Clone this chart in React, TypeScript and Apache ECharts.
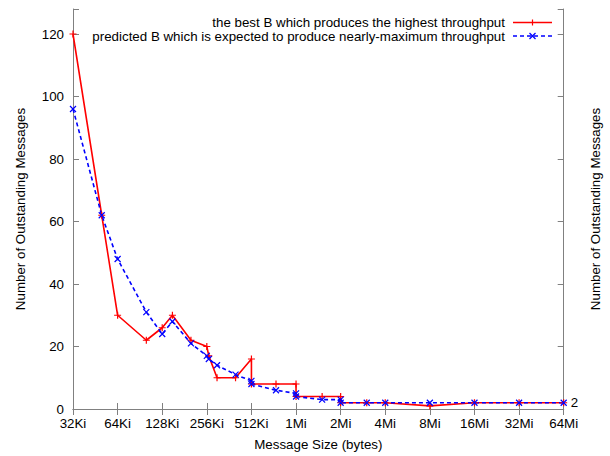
import React, { useEffect, useRef } from "react";
import * as echarts from "echarts";

const KI = 1024;
const MI = 1024 * 1024;

// Message sizes (bytes) and the best number of outstanding messages found
const bestSizes = [
  32 * KI, 50 * KI, 64 * KI, 100 * KI, 128 * KI, 150 * KI, 200 * KI, 256 * KI, 264 * KI,
  300 * KI, 400 * KI, 512 * KI, 512 * KI, 750 * KI, 1 * MI, 1 * MI, 1.5 * MI, 2 * MI, 2 * MI,
  3 * MI, 4 * MI, 8 * MI, 16 * MI, 32 * MI, 64 * MI,
];
const bestValues = [
  120, 62, 30, 22, 26, 30, 22, 20, 17, 10, 10, 16, 8, 8, 8, 4, 4, 4, 2, 2, 2, 1, 2, 2, 2,
];

// Message sizes (bytes) and the predicted number of outstanding messages
const predictedSizes = [
  32 * KI, 50 * KI, 64 * KI, 100 * KI, 128 * KI, 150 * KI, 200 * KI, 256 * KI, 264 * KI,
  300 * KI, 400 * KI, 512 * KI, 512 * KI, 750 * KI, 1 * MI, 1 * MI, 1.5 * MI, 2 * MI, 2 * MI,
  3 * MI, 4 * MI, 8 * MI, 16 * MI, 32 * MI, 64 * MI,
];
const predictedValues = [
  96, 62, 48, 31, 24, 28, 21, 17, 16, 14, 11, 9, 8, 6, 5, 4, 3, 3, 2, 2, 2, 2, 2, 2, 2,
];

const xTickLabels = [
  "32Ki", "64Ki", "128Ki", "256Ki", "512Ki", "1Mi", "2Mi", "4Mi", "8Mi", "16Mi", "32Mi", "64Mi",
];
const yTickValues = [0, 20, 40, 60, 80, 100, 120];
const rightLabelValues = [2];

const seriesNames = [
  "the best B which produces the highest throughput",
  "predicted B which is expected to produce nearly-maximum throughput",
];

const FONT = '"Liberation Sans", Arial, sans-serif';
const FONT_SIZE = 13.33;
const FRAME = "#808080";
const RED = "#ff0000";
const BLUE = "#0000ff";

const PLUS = "path://M5 0 L5 10 M0 5 L10 5";
const CROSS = "path://M0 0 L10 10 M10 0 L0 10";

function sizeLabel(v: number): string {
  const idx = Math.round(Math.log2(v / (32 * KI)));
  return xTickLabels[idx] ?? "";
}

export default function App() {
  const ref = useRef<HTMLDivElement>(null);

  useEffect(() => {
    if (!ref.current) return;
    const chart = echarts.init(ref.current, null, { renderer: "svg" });

    const textStyle = { fontFamily: FONT, fontSize: FONT_SIZE, color: "#000" };

    const xBase = {
      type: "log" as const,
      logBase: 2,
      min: 32 * KI,
      max: 64 * MI,
      interval: 1,
      splitLine: { show: false },
      minorTick: { show: false },
      axisLine: { show: true, lineStyle: { color: FRAME, width: 1 } },
      axisTick: { inside: true, length: 6, lineStyle: { color: FRAME } },
    };
    const yBase = {
      type: "value" as const,
      min: 0,
      max: 128,
      interval: 20,
      splitLine: { show: false },
      axisLine: { show: true, lineStyle: { color: FRAME, width: 1 } },
      axisTick: { show: true, inside: true, length: 6, lineStyle: { color: FRAME } },
      nameLocation: "middle" as const,
      nameRotate: 90,
      nameTextStyle: textStyle,
    };

    const legendY = [22.5, 36];
    const sampleX1 = 513;
    const sampleX2 = 552;
    const mid = (sampleX1 + sampleX2) / 2;

    chart.setOption({
      animation: false,
      backgroundColor: "#ffffff",
      grid: { left: 73, right: 44, top: 9, bottom: 47, containLabel: false },
      xAxis: [
        {
          ...xBase,
          position: "bottom",
          name: "Message Size (bytes)",
          nameLocation: "middle",
          nameGap: 29,
          nameTextStyle: textStyle,
          axisLabel: {
            ...textStyle,
            formatter: (v: number) => sizeLabel(v),
            margin: 8,
            showMinLabel: true,
            showMaxLabel: true,
          },
        },
        {
          ...xBase,
          position: "top",
          axisLabel: { show: false },
        },
      ],
      yAxis: [
        {
          ...yBase,
          position: "left",
          name: "Number of Outstanding Messages",
          nameGap: 46,
          axisLabel: { ...textStyle, customValues: yTickValues, margin: 9 },
        },
        {
          ...yBase,
          position: "right",
          name: "Number of Outstanding Messages",
          nameGap: 24,
          axisLabel: { ...textStyle, customValues: rightLabelValues, margin: 7 },
        },
      ],
      series: [
        {
          name: seriesNames[0],
          type: "line",
          xAxisIndex: 0,
          yAxisIndex: 0,
          data: bestSizes.map((s, i) => [s, bestValues[i]]),
          symbol: PLUS,
          symbolSize: 7,
          itemStyle: { color: RED, borderColor: RED, borderWidth: 1.2 },
          lineStyle: { color: RED, width: 1.6 },
          emphasis: { disabled: true },
        },
        {
          name: seriesNames[1],
          type: "line",
          xAxisIndex: 0,
          yAxisIndex: 0,
          data: predictedSizes.map((s, i) => [s, predictedValues[i]]),
          symbol: CROSS,
          symbolSize: 6,
          itemStyle: { color: BLUE, borderColor: BLUE, borderWidth: 1.2 },
          lineStyle: { color: BLUE, width: 1.6, type: [4, 3] },
          emphasis: { disabled: true },
        },
      ],
      graphic: [
        {
          type: "text",
          x: 505,
          y: legendY[0],
          style: {
            text: seriesNames[0],
            align: "right",
            verticalAlign: "middle",
            fontFamily: FONT,
            fontSize: FONT_SIZE,
            fill: "#000",
          },
        },
        {
          type: "text",
          x: 505,
          y: legendY[1],
          style: {
            text: seriesNames[1],
            align: "right",
            verticalAlign: "middle",
            fontFamily: FONT,
            fontSize: FONT_SIZE,
            fill: "#000",
          },
        },
        {
          type: "line",
          shape: { x1: sampleX1, y1: legendY[0], x2: sampleX2, y2: legendY[0] },
          style: { stroke: RED, lineWidth: 1.6 },
        },
        {
          type: "line",
          shape: { x1: mid, y1: legendY[0] - 3, x2: mid, y2: legendY[0] + 3 },
          style: { stroke: RED, lineWidth: 1.2 },
        },
        {
          type: "line",
          shape: { x1: sampleX1, y1: legendY[1], x2: sampleX2, y2: legendY[1] },
          style: { stroke: BLUE, lineWidth: 1.6, lineDash: [4, 3] },
        },
        {
          type: "polyline",
          shape: { points: [[mid - 3, legendY[1] - 3], [mid + 3, legendY[1] + 3]] },
          style: { stroke: BLUE, lineWidth: 1.2, fill: "none" },
        },
        {
          type: "polyline",
          shape: { points: [[mid + 3, legendY[1] - 3], [mid - 3, legendY[1] + 3]] },
          style: { stroke: BLUE, lineWidth: 1.2, fill: "none" },
        },
      ],
    });

    return () => chart.dispose();
  }, []);

  return (
    <div
      ref={ref}
      style={{ position: "fixed", left: 0, top: 0, width: 610, height: 456 }}
    />
  );
}
